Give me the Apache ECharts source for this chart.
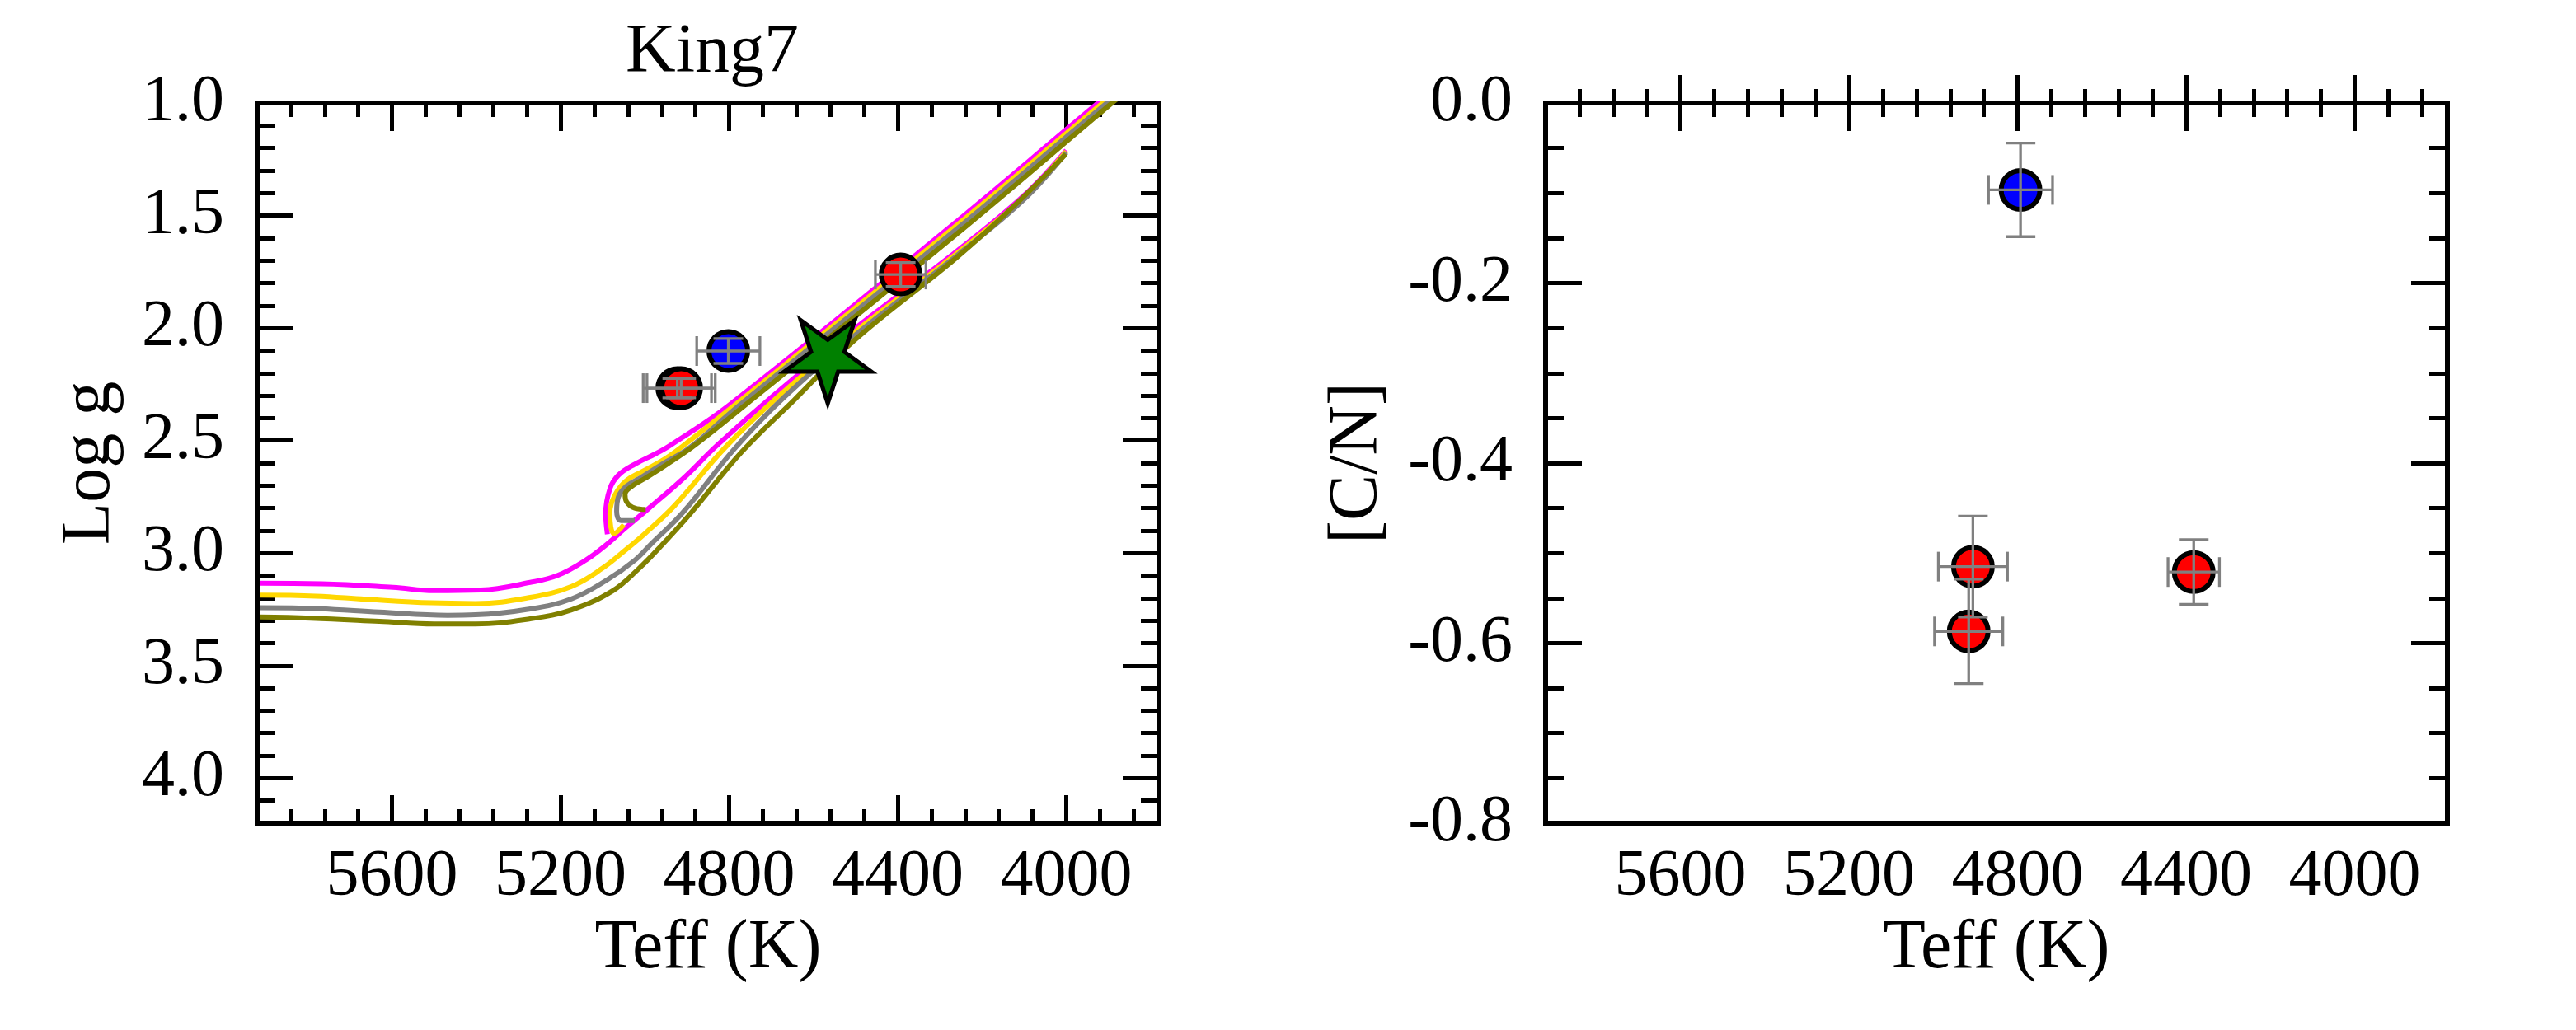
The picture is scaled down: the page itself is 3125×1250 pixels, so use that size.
<!DOCTYPE html>
<html>
<head>
<meta charset="utf-8">
<script src="https://cdn.jsdelivr.net/npm/echarts@6/dist/echarts.min.js"></script>
<style>
html,body{margin:0;padding:0;background:#fff;}
#chart{width:3125px;height:1250px;}
</style>
</head>
<body>
<div id="chart"></div>
<script>
// ---------- tick values ----------
const teffMajorTicks = [4000, 4400, 4800, 5200, 5600];
const teffMinorTicks = [3840, 3920, 4080, 4160, 4240, 4320, 4480, 4560, 4640, 4720, 4880, 4960, 5040, 5120, 5280, 5360, 5440, 5520, 5680, 5760, 5840];
const loggMajorTicks = [1.0, 1.5, 2.0, 2.5, 3.0, 3.5, 4.0];
const loggMinorTicks = [1.1, 1.2, 1.3, 1.4, 1.6, 1.7, 1.8, 1.9, 2.1, 2.2, 2.3, 2.4, 2.6, 2.7, 2.8, 2.9, 3.1, 3.2, 3.3, 3.4, 3.6, 3.7, 3.8, 3.9, 4.1];
const cnMajorTicks = [-0.8, -0.6, -0.4, -0.2, 0.0];
const cnMinorTicks = [-0.75, -0.7, -0.65, -0.55, -0.5, -0.45, -0.35, -0.3, -0.25, -0.15, -0.1, -0.05];

// ---------- isochrones: [Teff, logg] ----------
const magentaRGB = [[5914,3.134],[5767,3.136],[5598,3.152],[5500,3.167],[5389,3.164],[5272,3.130],[5207,3.099],[5141,3.032],[5089,2.959],[5050,2.895],[4990,2.800],[4907,2.665],[4828,2.520],[4695,2.300],[4500,2.000],[4261,1.660],[4100,1.410],[4000,1.210]];
const goldRGB    = [[5914,3.187],[5781,3.191],[5663,3.205],[5507,3.221],[5402,3.224],[5272,3.197],[5174,3.148],[5102,3.069],[5044,2.983],[4998,2.910],[4930,2.790],[4809,2.530],[4681,2.300],[4500,2.015],[4261,1.670],[4100,1.418],[4000,1.215]];
const grayRGB    = [[5914,3.243],[5774,3.247],[5630,3.262],[5468,3.276],[5402,3.274],[5272,3.248],[5174,3.203],[5089,3.118],[5024,3.032],[4985,2.959],[4910,2.820],[4789,2.540],[4671,2.310],[4500,2.030],[4261,1.680],[4100,1.428],[4000,1.220]];
const oliveRGB   = [[5914,3.284],[5793,3.289],[5630,3.303],[5500,3.315],[5402,3.315],[5272,3.292],[5174,3.252],[5076,3.167],[5015,3.070],[4960,2.965],[4890,2.820],[4770,2.550],[4646,2.320],[4500,2.050],[4261,1.688],[4120,1.450],[4001,1.227]];

const magentaHB = [[5089,2.916],[5093,2.824],[5083,2.714],[5063,2.654],[5024,2.605],[4972,2.556],[4939,2.520],[4803,2.347],[4287,1.568],[3929,1.007],[3870,0.920]];
const goldHB    = [[5050,2.874],[5073,2.913],[5083,2.824],[5070,2.739],[5044,2.678],[5005,2.636],[4952,2.581],[4907,2.520],[4790,2.347],[4276,1.568],[3918,1.007],[3860,0.920]];
const grayHB    = [[5024,2.855],[5057,2.855],[5067,2.813],[5063,2.751],[5044,2.703],[5011,2.666],[4959,2.605],[4894,2.532],[4778,2.347],[4265,1.568],[3908,1.007],[3850,0.920]];
const oliveHB   = [[4998,2.806],[5024,2.800],[5044,2.770],[5047,2.739],[5031,2.703],[4998,2.666],[4952,2.611],[4881,2.520],[4765,2.347],[4251,1.568],[3896,1.007],[3838,0.920]];

// ---------- stars: [Teff, value, TeffErr, valueErr] ----------
const loggRed  = [[4923,2.267,81,0.043],[4914,2.267,81,0.043],[4393,1.762,60,0.053]];
const loggBlue = [[4802,2.102,75,0.055]];
const loggStar = [[4566,2.150]];
const cnRed  = [[4906,-0.515,82,0.056],[4916,-0.587,81,0.058],[4382,-0.521,61,0.036]];
const cnBlue = [[4793,-0.0965,76,0.052]];

// ---------- styling ----------
const FONT = "'Liberation Serif','DejaVu Serif',serif";
const TXT = 80;
const STAR_PATH = 'path://M100 200 L77.55 130.9 L4.89 130.9 L63.67 88.2 L41.22 19.1 L100 61.8 L158.78 19.1 L136.33 88.2 L195.11 130.9 L122.45 130.9 Z';

function xAxes(grid) {
  const base = {type:'value', gridIndex:grid, min:3780, max:5920, inverse:true,
    axisLine:{show:false}, splitLine:{show:false}};
  const tick = (vals, len) => ({show:true, inside:true, length:len, customValues:vals, lineStyle:{color:'#000', width:5}});
  return [
    Object.assign({}, base, {position:'bottom', axisTick:tick(teffMajorTicks,34),
      axisLabel:{show:true, customValues:teffMajorTicks, margin:26, fontSize:TXT, fontFamily:FONT, color:'#000',
        formatter:v => String(Math.round(v))},
      name:'Teff (K)', nameLocation:'middle', nameGap:100, nameTextStyle:{fontSize:84, fontFamily:FONT, color:'#000'}}),
    Object.assign({}, base, {position:'bottom', axisTick:tick(teffMinorTicks,17), axisLabel:{show:false}}),
    Object.assign({}, base, {position:'top', axisTick:tick(teffMajorTicks,34), axisLabel:{show:false}}),
    Object.assign({}, base, {position:'top', axisTick:tick(teffMinorTicks,17), axisLabel:{show:false}})
  ];
}
function yAxes(grid, min, max, inverse, major, minor, name, gap) {
  const base = {type:'value', gridIndex:grid, min:min, max:max, inverse:inverse,
    axisLine:{show:false}, splitLine:{show:false}};
  const tick = (vals, len) => ({show:true, inside:true, length:len, customValues:vals, lineStyle:{color:'#000', width:5}});
  return [
    Object.assign({}, base, {position:'left', axisTick:tick(major,44),
      axisLabel:{show:true, customValues:major, margin:40, fontSize:TXT, fontFamily:FONT, color:'#000', formatter:v => Number(v).toFixed(1)},
      name:name, nameLocation:'middle', nameGap:gap, nameTextStyle:{fontSize:84, fontFamily:FONT, color:'#000'}}),
    Object.assign({}, base, {position:'left', axisTick:tick(minor,22), axisLabel:{show:false}}),
    Object.assign({}, base, {position:'right', axisTick:tick(major,44), axisLabel:{show:false}}),
    Object.assign({}, base, {position:'right', axisTick:tick(minor,22), axisLabel:{show:false}})
  ];
}

function errRender(params, api) {
  const x = api.value(0), y = api.value(1), ex = api.value(2), ey = api.value(3);
  const l = api.coord([x - ex, y]), r = api.coord([x + ex, y]);
  const t = api.coord([x, y - ey]), b = api.coord([x, y + ey]);
  const cap = 18;
  const style = {stroke:'#808080', lineWidth:3.3, fill:null};
  const ln = (x1,y1,x2,y2) => ({type:'line', shape:{x1,y1,x2,y2}, style});
  return {type:'group', children:[
    ln(l[0],l[1],r[0],r[1]),
    ln(t[0],t[1],b[0],b[1]),
    ln(l[0],l[1]-cap,l[0],l[1]+cap),
    ln(r[0],r[1]-cap,r[0],r[1]+cap),
    ln(t[0]-cap,t[1],t[0]+cap,t[1]),
    ln(b[0]-cap,b[1],b[0]+cap,b[1])
  ]};
}

function lineSeries(data, color) {
  return {type:'line', xAxisIndex:0, yAxisIndex:0, data:data, showSymbol:false, symbol:'none',
    smooth:0.4, lineStyle:{color:color, width:6}, z:2, silent:true};
}
function dotSeries(xi, yi, data, color) {
  return {type:'scatter', xAxisIndex:xi, yAxisIndex:yi, data:data.map(d => [d[0], d[1]]),
    symbol:'circle', symbolSize:47, itemStyle:{color:color, borderColor:'#000', borderWidth:6, opacity:1}, z:3};
}
function errSeries(xi, yi, data) {
  return {type:'custom', xAxisIndex:xi, yAxisIndex:yi, data:data, renderItem:errRender,
    encode:{x:0, y:1}, z:4, silent:true};
}

const chart = echarts.init(document.getElementById('chart'), null, {renderer:'canvas'});
chart.setOption({
  animation:false,
  backgroundColor:'#fff',
  title:{text:'King7', left:859, textAlign:'center', top:18,
    textStyle:{fontSize:84, fontFamily:FONT, fontWeight:'normal', color:'#000'}},
  grid:[
    {left:312, top:125, width:1094, height:874, show:true, borderColor:'#000', borderWidth:6, backgroundColor:'rgba(0,0,0,0)'},
    {left:1875, top:125, width:1094, height:874, show:true, borderColor:'#000', borderWidth:6, backgroundColor:'rgba(0,0,0,0)'}
  ],
  xAxis: xAxes(0).concat(xAxes(1)),
  yAxis: yAxes(0, 1.0, 4.2, true, loggMajorTicks, loggMinorTicks, 'Log g', 160)
          .concat(yAxes(1, -0.8, 0.0, false, cnMajorTicks, cnMinorTicks, '[C/N]', 185)),
  series:[
    lineSeries(magentaRGB, '#FF00FF'),
    lineSeries(magentaHB, '#FF00FF'),
    lineSeries(goldRGB, '#FFD700'),
    lineSeries(goldHB, '#FFD700'),
    lineSeries(grayRGB, '#808080'),
    lineSeries(grayHB, '#808080'),
    lineSeries(oliveRGB, '#808000'),
    lineSeries(oliveHB, '#808000'),
    dotSeries(0, 0, loggRed, '#FF0000'),
    dotSeries(0, 0, loggBlue, '#0000FF'),
    errSeries(0, 0, loggRed),
    errSeries(0, 0, loggBlue),
    {type:'scatter', xAxisIndex:0, yAxisIndex:0, data:loggStar, symbol:STAR_PATH, symbolSize:[106,101],
      itemStyle:{color:'#008000', borderColor:'#000', borderWidth:5, opacity:1}, z:5},
    dotSeries(4, 4, cnRed, '#FF0000'),
    dotSeries(4, 4, cnBlue, '#0000FF'),
    errSeries(4, 4, cnRed),
    errSeries(4, 4, cnBlue)
  ]
});
</script>
</body>
</html>
